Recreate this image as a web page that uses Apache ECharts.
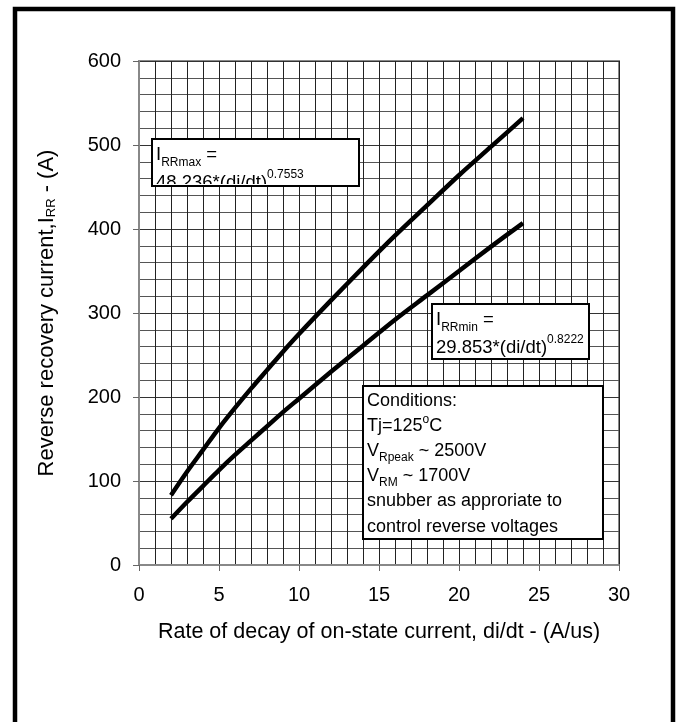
<!DOCTYPE html>
<html><head><meta charset="utf-8">
<script src="https://cdn.jsdelivr.net/npm/echarts@6/dist/echarts.min.js"></script>
<style>html,body{margin:0;padding:0;background:#fff}#c{width:676px;height:722px}</style>
</head><body><div id="c"></div>
<script>
const diDt = [2, 3, 4, 5, 6, 7, 8, 9, 10, 12, 14, 16, 18, 20, 22, 24];
const irrMax = [83, 111, 137, 163, 187, 210, 232, 254, 275, 315, 354, 392, 428, 464, 498, 532];
const irrMin = [55, 75, 94, 113, 131, 148, 165, 182, 198, 230, 261, 292, 321, 350, 379, 407];
const xTicks = [0, 5, 10, 15, 20, 25, 30];
const yTicks = [0, 100, 200, 300, 400, 500, 600];

const FONT = 'Liberation Sans, Arial, sans-serif';
function richFor(fs, lh) {
  return {
    m: {fontSize: fs, lineHeight: lh, verticalAlign: 'middle', color: '#000', fontFamily: FONT},
    sub: {fontSize: 12, lineHeight: lh / 2 + 4, verticalAlign: 'bottom', color: '#000', fontFamily: FONT},
    sup: {fontSize: 12, lineHeight: lh / 2, verticalAlign: 'top', color: '#000', fontFamily: FONT}
  };
}

const chart = echarts.init(document.getElementById('c'), null, {renderer: 'canvas'});
chart.setOption({
  animation: false,
  backgroundColor: '#fff',
  grid: {left: 139, right: 57, top: 61, bottom: 157, show: true, borderColor: '#888', borderWidth: 2, backgroundColor: 'transparent'},
  xAxis: {
    type: 'value', min: xTicks[0], max: xTicks[xTicks.length - 1], interval: 5,
    name: 'Rate of decay of on-state current, di/dt - (A/us)',
    nameLocation: 'middle', nameGap: 56,
    nameTextStyle: {fontSize: 21.5, color: '#000', fontFamily: FONT},
    axisLine: {show: true, lineStyle: {color: '#888', width: 2}},
    axisTick: {show: true, length: 6, lineStyle: {color: '#666'}},
    axisLabel: {fontSize: 20, color: '#000', fontFamily: FONT, margin: 20},
    splitLine: {show: true, lineStyle: {color: '#222', width: 1}},
    minorTick: {show: false, splitNumber: 5},
    minorSplitLine: {show: true, lineStyle: {color: '#222', width: 1}}
  },
  yAxis: {
    type: 'value', min: yTicks[0], max: yTicks[yTicks.length - 1], interval: 100,
    name: 'Reverse recovery current,I{s|RR} - (A)',
    nameLocation: 'middle', nameGap: 81, nameRotate: 90,
    nameTextStyle: {fontSize: 22, color: '#000', fontFamily: FONT,
      rich: {s: {fontSize: 13, color: '#000', fontFamily: FONT, verticalAlign: 'bottom', lineHeight: 14}}},
    axisLine: {show: true, lineStyle: {color: '#888', width: 2}},
    axisTick: {show: true, length: 6, lineStyle: {color: '#666'}},
    axisLabel: {fontSize: 20, color: '#000', fontFamily: FONT, margin: 18},
    splitLine: {show: true, lineStyle: {color: '#333', width: 1}},
    minorTick: {show: false, splitNumber: 5},
    minorSplitLine: {show: true, lineStyle: {color: '#555', width: 1}}
  },
  series: [
    {name: 'IRRmax', type: 'line', data: diDt.map((x, i) => [x, irrMax[i]]), smooth: 0.3,
     showSymbol: false, lineStyle: {color: '#000', width: 4.5}, z: 5},
    {name: 'IRRmin', type: 'line', data: diDt.map((x, i) => [x, irrMin[i]]), smooth: 0.3,
     showSymbol: false, lineStyle: {color: '#000', width: 4.5}, z: 5},
    {name: 'boxMaxText', type: 'custom', coordinateSystem: 'none', data: [0], silent: true, z: 120,
     renderItem: function () {
       return {
         type: 'text', x: 156, y: 141, z2: 10,
         style: {text: '{m|I}{sub|RRmax}{m| =}\n{m|48.236*(di/dt)}{sup|0.7553}', rich: richFor(18.5, 28)},
         clipPath: {type: 'rect', shape: {x: -3, y: -1, width: 202, height: 44}}
       };
     }}
  ],
  graphic: [
    {type: 'rect', z: 100, shape: {x: 15, y: 9, width: 658, height: 740},
     style: {fill: 'none', stroke: '#000', lineWidth: 4.5}},
    {type: 'rect', z: 100, shape: {x: 152, y: 139, width: 207, height: 47},
     style: {fill: '#fff', stroke: '#000', lineWidth: 2}},
    {type: 'rect', z: 100, shape: {x: 432, y: 304, width: 157, height: 55},
     style: {fill: '#fff', stroke: '#000', lineWidth: 2}},
    {type: 'text', z: 101, x: 436, y: 306,
     style: {text: '{m|I}{sub|RRmin}{m| =}\n{m|29.853*(di/dt)}{sup|0.8222}', rich: richFor(18.5, 28)}},
    {type: 'rect', z: 100, shape: {x: 363, y: 386, width: 240, height: 153},
     style: {fill: '#fff', stroke: '#000', lineWidth: 2}},
    {type: 'text', z: 101, x: 367, y: 388,
     style: {text: '{m|Conditions:}\n{m|Tj=125}{sup|o}{m|C}\n{m|V}{sub|Rpeak}{m| ~ 2500V}\n{m|V}{sub|RM}{m| ~ 1700V}\n{m|snubber as approriate to}\n{m|control reverse voltages}',
       rich: richFor(18, 25.2)}}
  ]
});
</script></body></html>
